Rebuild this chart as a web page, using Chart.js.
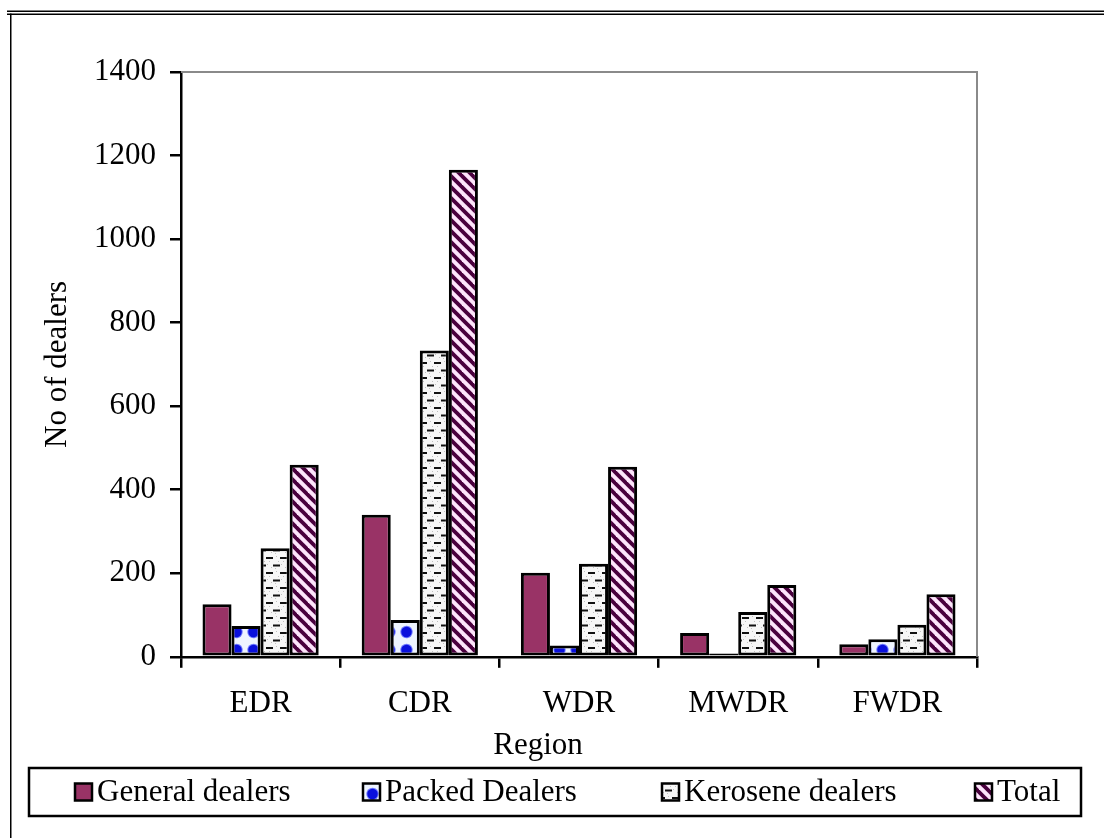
<!DOCTYPE html>
<html>
<head>
<meta charset="utf-8">
<title>Dealers by region</title>
<script src="https://cdn.jsdelivr.net/npm/chart.js@4.4.1/dist/chart.umd.min.js"></script>
<style>
  html, body { margin: 0; padding: 0; background: #ffffff; }
  canvas { display: block; }
</style>
</head>
<body>
<canvas id="dealersChart" width="1104" height="838"></canvas>
<script>
// ---- data ----
const categories = ['EDR', 'CDR', 'WDR', 'MWDR', 'FWDR'];
const seriesNames = ['General dealers', 'Packed Dealers', 'Kerosene dealers', 'Total'];
const generalDealers = [126, 340, 201, 57, 30];
const packedDealers = [74, 88, 27, 8, 42];
const keroseneDealers = [260, 733, 223, 107, 77];
const totalDealers = [460, 1166, 455, 172, 150];
const yTickValues = [0, 200, 400, 600, 800, 1000, 1200, 1400];
const xAxisTitle = 'Region';
const yAxisTitle = 'No of dealers';

// ---- styling ----
const FONT_FAMILY = '"Liberation Serif", "Times New Roman", serif';
const FONT_SIZE = 31;
Chart.defaults.font.family = FONT_FAMILY;
Chart.defaults.font.size = FONT_SIZE;
Chart.defaults.color = '#000000';

const canvas = document.getElementById('dealersChart');
const ctx = canvas.getContext('2d');

function makePattern(w, h, paint) {
  const tile = document.createElement('canvas');
  tile.width = w;
  tile.height = h;
  paint(tile.getContext('2d'), w, h);
  return ctx.createPattern(tile, 'repeat');
}

// solid plum
const generalFill = '#993366';

// large blue dots on a pale ground (dot drawn with wrap so it tiles cleanly)
const packedFill = makePattern(17, 18, (g, w, h) => {
  g.fillStyle = '#eef4ff';
  g.fillRect(0, 0, w, h);
  const cx = 15.5, cy = 2;
  for (let dx = -1; dx <= 1; dx++) {
    for (let dy = -1; dy <= 1; dy++) {
      const x = cx + dx * w, y = cy + dy * h;
      g.fillStyle = '#6f7aff';
      g.beginPath(); g.arc(x, y, 6.2, 0, Math.PI * 2); g.fill();
      g.fillStyle = '#0a10dc';
      g.beginPath(); g.arc(x, y, 5.2, 0, Math.PI * 2); g.fill();
    }
  }
});

// short black dashes over a light stipple
const keroseneFill = makePattern(14, 15, (g, w, h) => {
  g.fillStyle = '#f6f6f6';
  g.fillRect(0, 0, w, h);
  g.fillStyle = '#c0c0c0';
  [[3, 6], [10, 1], [12, 6], [5, 12], [1, 9], [9, 13]].forEach(([x, y]) => g.fillRect(x, y, 1, 1));
  g.fillStyle = '#111111';
  g.fillRect(0, 2, 7, 2);
  g.fillRect(7, 9.5, 7, 2);
});

// dark purple diagonal stripes on pink
const totalFill = makePattern(11, 11, (g, w, h) => {
  g.fillStyle = '#fde4fb';
  g.fillRect(0, 0, w, h);
  g.strokeStyle = '#4a003e';
  g.lineWidth = 3.8;
  [-w, 0, w].forEach(c => {
    g.beginPath();
    g.moveTo(-2, -2 + c);
    g.lineTo(w + 2, w + 2 + c);
    g.stroke();
  });
});

const seriesValues = [generalDealers, packedDealers, keroseneDealers, totalDealers];
const seriesFills = [generalFill, packedFill, keroseneFill, totalFill];

// page frame: double rule across the top and a rule down the left
const pageFrame = {
  id: 'pageFrame',
  beforeDraw(chart) {
    const c = chart.ctx;
    c.save();
    c.fillStyle = '#000000';
    c.fillRect(7, 10.5, chart.width - 7, 1.5);
    c.fillRect(7, 13.5, chart.width - 7, 1.5);
    c.fillRect(10, 13.5, 1.5, chart.height - 13.5);
    c.restore();
  }
};

// grey outline on the top and right of the plot area
const plotOutline = {
  id: 'plotOutline',
  beforeDatasetsDraw(chart) {
    const { left, right, top, bottom } = chart.chartArea;
    const c = chart.ctx;
    c.save();
    c.strokeStyle = '#8a8a8a';
    c.lineWidth = 2;
    c.beginPath();
    c.moveTo(left, top);
    c.lineTo(right, top);
    c.lineTo(right, bottom);
    c.stroke();
    c.restore();
  }
};

// boxed legend row under the axis title
const boxedLegend = {
  id: 'boxedLegend',
  afterDraw(chart) {
    const c = chart.ctx;
    const frame = { x: 29, y: 768, w: 1052, h: 48 };
    const itemLeft = [75, 363, 662, 975];
    const swatch = 17;
    const midY = frame.y + frame.h / 2;
    c.save();
    c.lineWidth = 2.5;
    c.strokeStyle = '#000000';
    c.strokeRect(frame.x, frame.y, frame.w, frame.h);
    c.font = FONT_SIZE + 'px ' + FONT_FAMILY;
    c.textBaseline = 'middle';
    c.textAlign = 'left';
    chart.data.datasets.forEach((ds, i) => {
      const x = itemLeft[i];
      c.fillStyle = ds.backgroundColor;
      c.fillRect(x, midY - swatch / 2, swatch, swatch);
      c.strokeStyle = '#000000';
      c.lineWidth = 2.5;
      c.strokeRect(x, midY - swatch / 2, swatch, swatch);
      c.fillStyle = '#000000';
      c.fillText(ds.label, x + 22, midY + 1);
    });
    c.restore();
  }
};

new Chart(ctx, {
  type: 'bar',
  data: {
    labels: categories,
    datasets: seriesNames.map((name, i) => ({
      label: name,
      data: seriesValues[i],
      backgroundColor: seriesFills[i],
      borderColor: '#000000',
      borderWidth: 3,
      borderSkipped: false,
      categoryPercentage: 0.73,
      barPercentage: 1.0,
      yAxisID: 'y'
    }))
  },
  options: {
    responsive: false,
    animation: false,
    events: [],
    layout: { padding: { left: 0, right: 28, top: 72, bottom: 74 } },
    plugins: {
      legend: { display: false },
      tooltip: { enabled: false },
      title: {
        display: true,
        position: 'bottom',
        text: xAxisTitle,
        color: '#000000',
        font: { family: FONT_FAMILY, size: FONT_SIZE, weight: 'normal' },
        padding: { top: 5, bottom: 0 }
      }
    },
    scales: {
      x: {
        type: 'category',
        grid: {
          offset: true,
          drawOnChartArea: false,
          drawTicks: true,
          tickLength: 11,
          color: '#000000',
          lineWidth: 2.5
        },
        border: { display: true, color: '#000000', width: 2.5 },
        ticks: { padding: 17, color: '#000000', font: { size: FONT_SIZE } },
        afterFit(scale) { scale.height = 65; }
      },
      y: {
        type: 'linear',
        position: 'left',
        min: 0,
        max: 1400,
        grid: {
          drawOnChartArea: false,
          drawTicks: true,
          tickLength: 11,
          color: '#000000',
          lineWidth: 2.5
        },
        border: { display: true, color: '#000000', width: 2.5 },
        ticks: {
          padding: 14,
          color: '#000000',
          font: { size: FONT_SIZE },
          callback: (v) => String(v)
        },
        title: {
          display: true,
          text: yAxisTitle,
          color: '#000000',
          font: { size: FONT_SIZE },
          padding: { top: 39, bottom: 0 }
        },
        afterBuildTicks(scale) { scale.ticks = yTickValues.map(v => ({ value: v })); },
        afterFit(scale) { scale.width = 181; }
      },
      yRight: {
        type: 'linear',
        position: 'right',
        display: true,
        grid: { display: false },
        border: { display: false },
        ticks: { display: false },
        afterFit(scale) { scale.width = 99; }
      }
    }
  },
  plugins: [pageFrame, plotOutline, boxedLegend]
});
</script>
</body>
</html>
